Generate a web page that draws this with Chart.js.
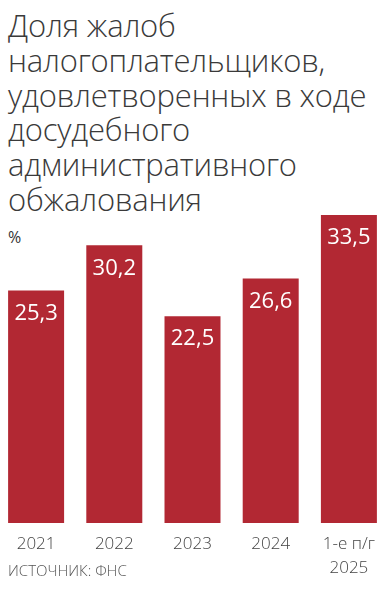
<!DOCTYPE html>
<html>
<head>
<meta charset="utf-8">
<script src="https://cdn.jsdelivr.net/npm/chart.js@4.4.1/dist/chart.umd.min.js"></script>
<style>
  html, body { margin: 0; padding: 0; background: #fff; overflow: hidden; }
  body { width: 387px; height: 593px; position: relative; font-family: "Open Sans", "Noto Sans", sans-serif; }
  #title {
    position: absolute; left: 8px; top: 8px; margin: 0;
    font-size: 31px; font-weight: 300; line-height: 34.8px; color: #3a3a3a;
    letter-spacing: -0.2px;
  }
  #unit { position: absolute; left: 8px; top: 226px; font-size: 16px; color: #333; }
  #source { position: absolute; left: 8px; top: 560px; font-size: 15px; font-weight: 300; color: #555; }
  #wrap { position: absolute; left: -3px; top: 0; width: 391px; height: 593px; }
</style>
</head>
<body>
<div id="title">Доля жалоб<br>налогоплательщиков,<br>удовлетворенных в ходе<br>досудебного<br>административного<br>обжалования</div>
<div id="unit">%</div>
<div id="wrap"><canvas id="chart"></canvas></div>
<div id="source">ИСТОЧНИК: ФНС</div>
<script>
const periods = ["2021", "2022", "2023", "2024", ["1-е п/г", "2025"]];
const shares = [25.3, 30.2, 22.5, 26.6, 33.5];

const barLabels = {
  id: "barLabels",
  afterDatasetsDraw(chart) {
    const ctx = chart.ctx;
    const meta = chart.getDatasetMeta(0);
    ctx.save();
    ctx.fillStyle = "#ffffff";
    ctx.font = "400 22px 'Open Sans', 'Noto Sans', sans-serif";
    ctx.textAlign = "center";
    ctx.textBaseline = "middle";
    meta.data.forEach((bar, i) => {
      ctx.fillText(shares[i].toFixed(1).replace(".", ","), bar.x, bar.y + 23);
    });
    ctx.restore();
  }
};

new Chart(document.getElementById("chart"), {
  type: "bar",
  data: {
    labels: periods,
    datasets: [{
      data: shares,
      backgroundColor: "#b22833",
      borderWidth: 0,
      categoryPercentage: 1,
      barPercentage: 0.716
    }]
  },
  options: {
    responsive: true,
    maintainAspectRatio: false,
    animation: false,
    layout: { padding: { top: 215, bottom: 4, left: 0, right: 0 } },
    plugins: { legend: { display: false }, tooltip: { enabled: false } },
    scales: {
      y: { display: false, min: 0, max: 33.5 },
      x: {
        grid: { display: false, drawTicks: false },
        border: { display: false },
        ticks: {
          color: "#444",
          padding: 9,
          font: { family: "'Open Sans', 'Noto Sans', sans-serif", size: 17, weight: 300, lineHeight: 1.41 }
        }
      }
    }
  },
  plugins: [barLabels]
});
</script>
</body>
</html>
